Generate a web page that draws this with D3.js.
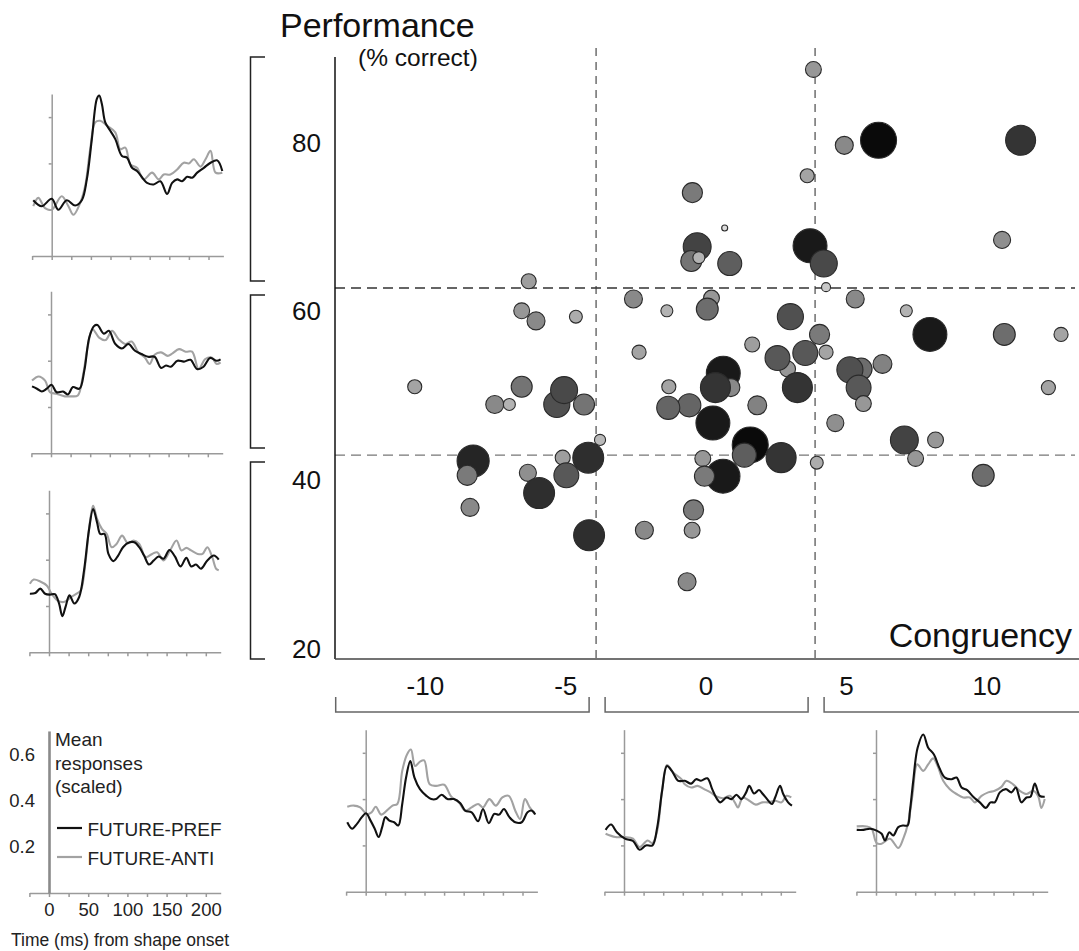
<!DOCTYPE html>
<html>
<head>
<meta charset="utf-8">
<script src="https://cdn.jsdelivr.net/npm/d3@7"></script>
<style>
body { margin: 0; background: #fff; }
svg { display: block; font-family: "Liberation Sans", Arial, Helvetica, sans-serif; }
</style>
</head>
<body>
<svg id="fig" width="1079" height="951"></svg>
<script>
// ---- scatter data: one entry per neuron ----
var congruency = [3.84, 4.94, 6.16, 11.22, 3.62, -0.47, 0.68, -0.30, -0.51, -0.24,
  0.86, 3.72, 4.21, 10.56, 4.29, 0.21, 0.06, 5.33, 7.15, 3.02,
  7.99, 10.64, 12.66, 4.06, 1.66, 4.29, 2.92, 2.56, 3.55, 6.30,
  5.54, 5.14, 5.45, 5.62, 12.21, 0.63, 0.90, 0.35, 3.27, -0.58,
  1.84, 0.26, 4.62, 1.59, 1.38, 2.69, 7.08, 8.19, 7.48, -0.10,
  3.96, 0.62, -0.04, 9.89, -6.30, -6.55, -6.04, -4.62, -2.57, -1.38,
  -2.37, -10.36, -6.55, -7.51, -6.99, -5.30, -5.04, -4.33, -3.76, -1.31,
  -1.33, -8.28, -8.49, -6.33, -5.09, -4.18, -4.96, -5.93, -8.39, -4.15,
  -2.18, -0.43, -0.48, -0.66];
var performance = [88.7, 79.7, 80.3, 80.3, 76.1, 74.1, 69.9, 67.7, 66.0, 66.4,
  65.7, 67.8, 65.7, 68.5, 62.9, 61.6, 60.3, 61.5, 60.1, 59.4,
  57.3, 57.3, 57.3, 57.3, 56.1, 55.2, 53.2, 54.5, 55.1, 53.8,
  53.2, 53.1, 51.0, 49.1, 51.0, 52.7, 51.0, 51.0, 51.0, 48.9,
  48.9, 46.8, 46.8, 44.2, 43.0, 42.7, 44.8, 44.8, 42.6, 42.6,
  42.1, 40.5, 40.5, 40.6, 63.6, 60.1, 58.9, 59.4, 61.5, 60.1,
  55.2, 51.1, 51.1, 49.0, 49.0, 49.0, 50.7, 49.0, 44.8, 51.1,
  48.6, 42.3, 40.6, 40.9, 42.7, 42.7, 40.6, 38.5, 36.8, 33.5,
  34.1, 36.5, 34.1, 28.0];
var weight = [0.33, 0.40, 1.00, 0.80, 0.27, 0.47, 0.00, 0.73, 0.50, 0.20,
  0.60, 0.93, 0.70, 0.37, 0.10, 0.33, 0.53, 0.40, 0.20, 0.67,
  0.93, 0.53, 0.27, 0.47, 0.30, 0.27, 0.33, 0.63, 0.63, 0.43,
  0.53, 0.67, 0.63, 0.33, 0.27, 0.93, 0.40, 0.80, 0.80, 0.57,
  0.43, 0.93, 0.37, 1.00, 0.60, 0.80, 0.73, 0.33, 0.33, 0.33,
  0.23, 0.93, 0.47, 0.53, 0.30, 0.33, 0.40, 0.23, 0.40, 0.20,
  0.27, 0.27, 0.50, 0.40, 0.20, 0.67, 0.70, 0.50, 0.17, 0.27,
  0.57, 0.87, 0.47, 0.37, 0.30, 0.83, 0.63, 0.83, 0.40, 0.83,
  0.40, 0.47, 0.33, 0.40];

var congTicks = [-10, -5, 0, 5, 10];
var perfTicks = [20, 40, 60, 80];
var congCuts = [-3.9, 3.9];
var perfCuts = [43.0, 62.8];

// ---- response curves: [time ms, scaled response] ----
var timeTicks = [-25, 0, 25, 50, 75, 100, 125, 150, 175, 200];
var timeLabels = [0, 50, 100, 150, 200];
var respTicks = [0.2, 0.4, 0.6];

var perfHighPref = [[-23.5,.241],[-12.8,.215],[0,.247],[8.5,.200],[19.2,.241],[29.9,.218],[38.4,.241],[44.8,.331],[51.2,.505],[57.6,.679],[60.6,.693],[64,.657],[68.3,.577],[74.7,.541],[81.1,.505],[89.6,.432],[96,.425],[102.4,.381],[108.8,.367],[117.3,.331],[121.6,.316],[130.1,.309],[138.6,.323],[147.2,.268],[153.6,.316],[160,.331],[166.4,.323],[172.8,.342],[179.2,.338],[185.6,.360],[194.1,.381],[202.6,.403],[211.2,.413],[217.6,.367]];
var perfHighAnti = [[-23.5,.215],[-17.1,.251],[-8.5,.207],[0,.200],[12.8,.258],[21.3,.215],[27.7,.178],[36.3,.229],[42.7,.302],[49.1,.461],[55.5,.577],[61.9,.584],[70.4,.563],[81.1,.534],[87.5,.461],[93.9,.468],[100.3,.396],[108.8,.381],[117.3,.331],[128,.360],[136.5,.331],[142.9,.352],[151.4,.352],[160,.374],[168.5,.403],[174.9,.400],[181.3,.418],[189.8,.386],[196.2,.418],[202.6,.454],[209,.360],[217.6,.360]];
var perfMidPref = [[-24.2,.289],[-17.9,.279],[-11.7,.267],[-5.4,.279],[0.8,.296],[7.1,.264],[15.4,.267],[21.7,.254],[27.9,.286],[36.3,.279],[42.5,.357],[48.8,.500],[55,.550],[59.2,.554],[67.5,.517],[73.8,.529],[82.1,.472],[90.4,.453],[98.8,.472],[107.1,.443],[115.4,.429],[123.8,.417],[132.1,.417],[140.4,.369],[146.7,.379],[152.9,.374],[161.3,.400],[169.6,.396],[177.9,.404],[186.3,.364],[194.6,.374],[202.9,.412],[211.3,.400],[216.3,.406]];
var perfMidAnti = [[-24.2,.314],[-15.8,.332],[-7.5,.314],[-1.3,.264],[7.1,.257],[17.5,.246],[25.8,.246],[34.2,.250],[40.4,.329],[46.7,.457],[52.9,.536],[61.3,.500],[69.6,.489],[77.9,.529],[86.3,.493],[94.6,.472],[102.9,.483],[111.3,.436],[119.6,.414],[125.8,.386],[132.1,.426],[140.4,.436],[148.8,.421],[155,.432],[163.3,.450],[171.7,.439],[180,.439],[188.3,.364],[196.7,.407],[205,.414],[211.3,.386],[216.3,.393]];
var perfLowPref = [[-24.4,.253],[-17.4,.256],[-11.2,.275],[-5,.253],[1.2,.249],[7.5,.251],[12.8,.211],[17,.156],[21.1,.196],[26.1,.246],[32.3,.211],[38.5,.239],[44.7,.354],[50.9,.526],[56.3,.619],[61.3,.561],[65.4,.511],[70.8,.511],[75.8,.425],[82,.394],[88.2,.418],[94.4,.454],[102.7,.475],[108.9,.475],[115.1,.454],[121.3,.418],[127.5,.379],[133.7,.397],[139.9,.414],[146.1,.404],[153.6,.442],[160.6,.414],[167.7,.371],[175.2,.408],[181.3,.371],[187.5,.379],[193.8,.361],[202,.397],[210.3,.418],[216.5,.400]];
var perfLowAnti = [[-24.4,.296],[-19.5,.314],[-11.2,.306],[-2.9,.289],[3.3,.253],[11.6,.222],[19.9,.218],[28.2,.239],[35.2,.253],[40.6,.268],[46.8,.397],[51.8,.554],[56.3,.633],[61.3,.576],[67.5,.533],[73.7,.511],[79.9,.454],[86.1,.468],[93.2,.504],[100.6,.471],[108,.483],[115.1,.468],[123.3,.411],[131.6,.425],[137.9,.432],[146.1,.397],[154.4,.440],[162.7,.483],[168.9,.440],[175.2,.451],[181.3,.440],[189.6,.425],[195.8,.425],[202,.454],[208.2,.411],[213.2,.361],[216.5,.354]];

var congNegPref = [[-23.5,.300],[-17.3,.272],[-11.1,.293],[-4.9,.322],[0.4,.339],[6.2,.307],[11.5,.272],[16.5,.236],[21,.279],[25.1,.322],[30.1,.307],[36.3,.300],[41.6,.286],[46.6,.379],[51.5,.493],[56.9,.564],[62.2,.493],[69.2,.443],[77.5,.414],[83.6,.400],[89.8,.400],[96.8,.419],[104.2,.400],[112.5,.400],[120.7,.382],[126.9,.350],[135.1,.343],[143.4,.304],[149.6,.357],[157,.296],[164,.336],[170.2,.333],[176.3,.357],[183.3,.322],[190.8,.300],[199,.300],[206.4,.343],[212.2,.350],[216.3,.333]];
var congNegAnti = [[-23.5,.367],[-15.2,.372],[-7,.364],[1.2,.336],[7.4,.343],[12.8,.367],[19.8,.333],[26.8,.350],[34.2,.372],[40.4,.379],[46.6,.522],[52.7,.593],[57.7,.614],[63,.543],[69.2,.562],[74.6,.567],[81.6,.464],[89.8,.457],[100.1,.462],[109.2,.410],[118.7,.386],[126.9,.350],[135.1,.364],[143.4,.379],[149.6,.364],[157.8,.400],[166,.372],[174.3,.407],[182.5,.414],[190.8,.350],[197,.314],[203.1,.400],[209.3,.364],[215.5,.336]];
var congMidPref = [[-23.5,.267],[-16.5,.290],[-9.1,.257],[1.2,.229],[11.5,.219],[19.8,.181],[28,.200],[36.3,.200],[42.4,.279],[48.6,.436],[54.8,.543],[61,.522],[69.2,.479],[77.5,.479],[85.7,.467],[91.9,.486],[98.1,.479],[106.3,.490],[112.5,.443],[118.7,.400],[122.8,.386],[131,.407],[137.2,.400],[143.4,.419],[149.6,.400],[155.8,.429],[159.8,.457],[166,.424],[172.2,.439],[177.1,.422],[182.5,.400],[188.7,.379],[192.8,.407],[199,.457],[203.1,.422],[209.3,.386],[214.2,.372]];
var congMidAnti = [[-23.5,.250],[-11.1,.236],[1.2,.236],[11.5,.229],[19.8,.193],[30.1,.221],[36.3,.210],[42.4,.264],[48.6,.436],[54.8,.547],[63,.514],[73.3,.486],[77.5,.464],[85.7,.450],[93.9,.457],[102.2,.443],[110.4,.429],[118.7,.410],[126.9,.404],[135.1,.414],[141.3,.386],[145.4,.364],[151.6,.407],[159.8,.393],[168.1,.376],[176.3,.386],[184.5,.386],[192.8,.393],[201,.386],[207.2,.414],[213.4,.407]];
var congPosPref = [[-24.6,.267],[-16.1,.267],[-7.6,.272],[0.8,.264],[7.2,.250],[11.5,.221],[17,.257],[22.1,.243],[28.4,.279],[34.8,.286],[40.3,.286],[43.3,.350],[47.5,.479],[53.1,.622],[60.3,.679],[66.6,.622],[73.9,.593],[80.7,.536],[87.9,.493],[96.4,.486],[102.7,.493],[109.1,.450],[116.3,.439],[124,.410],[132.4,.386],[140.1,.362],[146,.386],[151.5,.386],[157.9,.429],[165.6,.443],[172.8,.429],[178.3,.450],[185.5,.386],[191.9,.407],[197,.410],[202.5,.467],[208.9,.414],[215.2,.410]];
var congPosAnti = [[-24.6,.282],[-11.9,.282],[-5.5,.272],[0.8,.210],[7.2,.207],[17.8,.229],[28.4,.189],[34.8,.229],[41.2,.300],[46.7,.422],[52.6,.550],[60.3,.522],[66.6,.550],[73,.576],[79.4,.536],[85.7,.479],[94.2,.443],[102.7,.422],[111.2,.407],[119.7,.407],[126.1,.386],[134.6,.414],[143.1,.429],[151.5,.436],[160,.453],[166.4,.479],[174.9,.464],[183.4,.436],[191.9,.422],[200.4,.436],[206.7,.414],[211,.362],[215.2,.400]];

var svg = d3.select("#fig");
var font = '"Liberation Sans", Arial, Helvetica, sans-serif';

// ---- main scatter ----
var x = d3.scaleLinear().domain([-13.2, 13.3]).range([335, 1079]);
var y = d3.scaleLinear().domain([18.84, 90.17]).range([659, 57]);
var rad = d3.scaleLinear().domain([0, 1]).range([3, 18]);
var shade = d3.scaleLinear().domain([0, 1]).range([221, 10]);

// dashed cut lines
svg.selectAll(".vcut").data(congCuts).enter().append("line")
  .attr("x1", function(d) { return x(d); }).attr("x2", function(d) { return x(d); })
  .attr("y1", 48).attr("y2", y.range()[0])
  .attr("stroke", "#777").attr("stroke-width", 1.6).attr("stroke-dasharray", "8,6");
svg.selectAll(".hcut").data(perfCuts).enter().append("line")
  .attr("x1", x.range()[0]).attr("x2", x.range()[1] - 4)
  .attr("y1", function(d) { return y(d); }).attr("y2", function(d) { return y(d); })
  .attr("stroke", function(d, i) { return i == 1 ? "#333" : "#777"; })
  .attr("stroke-width", 1.4).attr("stroke-dasharray", "10,6");

// dots
svg.append("g").selectAll("circle")
  .data(d3.range(congruency.length))
  .enter().append("circle")
  .attr("cx", function(i) { return x(congruency[i]); })
  .attr("cy", function(i) { return y(performance[i]); })
  .attr("r", function(i) { return rad(weight[i]); })
  .attr("fill", function(i) { var g = Math.round(shade(weight[i])); return d3.rgb(g, g, g); })
  .attr("stroke", "#2a2a2a").attr("stroke-width", 1.1);

// axes lines
svg.append("line").attr("x1", x.range()[0]).attr("x2", x.range()[0])
  .attr("y1", y.range()[1]).attr("y2", y.range()[0])
  .attr("stroke", "#111").attr("stroke-width", 1.5);
svg.append("line").attr("x1", x.range()[0]).attr("x2", x.range()[1])
  .attr("y1", y.range()[0]).attr("y2", y.range()[0])
  .attr("stroke", "#444").attr("stroke-width", 1.5);

var yAxis = svg.append("g").attr("transform", "translate(" + x.range()[0] + ",0)")
  .call(d3.axisLeft(y).tickValues(perfTicks).tickSize(0).tickPadding(14));
var xAxis = svg.append("g").attr("transform", "translate(0," + y.range()[0] + ")")
  .call(d3.axisBottom(x).tickValues(congTicks).tickSize(0).tickPadding(18)
    .tickFormat(function(d) { return String(d); }));
[yAxis, xAxis].forEach(function(g) {
  g.select(".domain").remove();
  g.selectAll("text").attr("font-family", font).attr("font-size", 26).attr("fill", "#111");
});

svg.append("text").attr("x", 280).attr("y", 37).attr("font-size", 34).attr("fill", "#111").text("Performance");
svg.append("text").attr("x", 358).attr("y", 66).attr("font-size", 24.5).attr("fill", "#111").text("(% correct)");
svg.append("text").attr("x", 1072).attr("y", 647).attr("text-anchor", "end")
  .attr("font-size", 34).attr("fill", "#111").text("Congruency");

// brackets for the bins
var gap = 7;
var perfBins = [[y.domain()[1], perfCuts[1]], [perfCuts[1], perfCuts[0]], [perfCuts[0], y.domain()[0]]];
perfBins.forEach(function(b, i) {
  var y1 = y(b[0]) + (i == 0 ? 0 : gap), y2 = y(b[1]) - (i == 2 ? 0 : gap);
  svg.append("path").attr("d", "M265," + y1 + "H250.5V" + y2 + "H265")
    .attr("fill", "none").attr("stroke", "#222").attr("stroke-width", 1.5);
});
var congBins = [[x.domain()[0], congCuts[0]], [congCuts[0], congCuts[1]], [congCuts[1], x.domain()[1]]];
congBins.forEach(function(b, i) {
  var x1 = x(b[0]) + (i == 0 ? 0.7 : gap + 2), x2 = x(b[1]) - (i == 2 ? 0 : gap);
  var d = "M" + x1 + ",697V712H" + x2 + (i == 2 ? "" : "V697");
  svg.append("path").attr("d", d)
    .attr("fill", "none").attr("stroke", "#666").attr("stroke-width", 1.5);
});

// ---- small response panels ----
var panels = [
  { t0: 51.7, base: 256, pref: perfHighPref, anti: perfHighAnti },
  { t0: 51, base: 453.3, pref: perfMidPref, anti: perfMidAnti },
  { t0: 49, base: 652.3, pref: perfLowPref, anti: perfLowAnti },
  { t0: 365.7, base: 891.7, pref: congNegPref, anti: congNegAnti },
  { t0: 624, base: 891.7, pref: congMidPref, anti: congMidAnti },
  { t0: 876, base: 891.7, pref: congPosPref, anti: congPosAnti }
];
var pxPerMs = 0.784, pxPerUnit = 231.5;

function panelScales(p) {
  var tx = d3.scaleLinear().domain([-25, 219]).range([p.t0 - 25 * pxPerMs, p.t0 + 219 * pxPerMs]);
  var ty = d3.scaleLinear().domain([0, 0.7]).range([p.base, p.base - 0.7 * pxPerUnit]);
  return { tx: tx, ty: ty };
}

panels.forEach(function(p) {
  var s = panelScales(p);
  var g = svg.append("g");
  var ax = g.append("g").attr("transform", "translate(0," + p.base + ")")
    .call(d3.axisBottom(s.tx).tickValues(timeTicks).tickSize(4).tickSizeOuter(0).tickFormat(""));
  var ay = g.append("g").attr("transform", "translate(" + s.tx(0) + ",0)")
    .call(d3.axisLeft(s.ty).tickValues(respTicks).tickSize(3).tickSizeOuter(0).tickFormat(""));
  [ax, ay].forEach(function(a) {
    a.selectAll("path,line").attr("stroke", "#9a9a9a").attr("stroke-width", 1.5);
  });
  var line = d3.line()
    .x(function(d) { return s.tx(d[0]); })
    .y(function(d) { return s.ty(d[1]); })
    .curve(d3.curveCatmullRom.alpha(0.5));
  g.append("path").attr("d", line(p.anti)).attr("fill", "none")
    .attr("stroke", "#a2a2a2").attr("stroke-width", 2.1);
  g.append("path").attr("d", line(p.pref)).attr("fill", "none")
    .attr("stroke", "#111").attr("stroke-width", 2.1);
});

// ---- legend panel with labelled axes ----
var key = panelScales({ t0: 49, base: 893 });
var kx = svg.append("g").attr("transform", "translate(0,893)")
  .call(d3.axisBottom(key.tx).tickValues(timeTicks).tickSize(4).tickSizeOuter(0).tickPadding(6)
    .tickFormat(function(d) { return timeLabels.indexOf(d) >= 0 ? d : ""; }));
kx.selectAll("path,line").attr("stroke", "#9a9a9a").attr("stroke-width", 1.5);
var ky = svg.append("g").attr("transform", "translate(" + key.tx(0) + ",0)")
  .call(d3.axisLeft(key.ty).tickValues(respTicks).tickSize(0).tickSizeOuter(0).tickPadding(14)
    .tickFormat(d3.format(".1f")));
ky.select(".domain").attr("stroke", "#8a8a8a").attr("stroke-width", 2.6);
[kx, ky].forEach(function(a) {
  a.selectAll("text").attr("font-family", font).attr("font-size", 18.5).attr("fill", "#222");
});

["Mean", "responses", "(scaled)"].forEach(function(t, i) {
  svg.append("text").attr("x", 55).attr("y", 746 + i * 23.5)
    .attr("font-size", 19).attr("fill", "#222").text(t);
});
var keyItems = [["FUTURE-PREF", "#111"], ["FUTURE-ANTI", "#a2a2a2"]];
keyItems.forEach(function(k, i) {
  var ly = 828 + i * 29;
  svg.append("line").attr("x1", 57).attr("x2", 82).attr("y1", ly).attr("y2", ly)
    .attr("stroke", k[1]).attr("stroke-width", 2.2);
  svg.append("text").attr("x", 87.5).attr("y", ly + 7.5)
    .attr("font-size", 19).attr("fill", "#222").text(k[0]);
});
svg.append("text").attr("x", 11).attr("y", 946).attr("font-size", 17.5).attr("fill", "#222")
  .text("Time (ms) from shape onset");
</script>
</body>
</html>
